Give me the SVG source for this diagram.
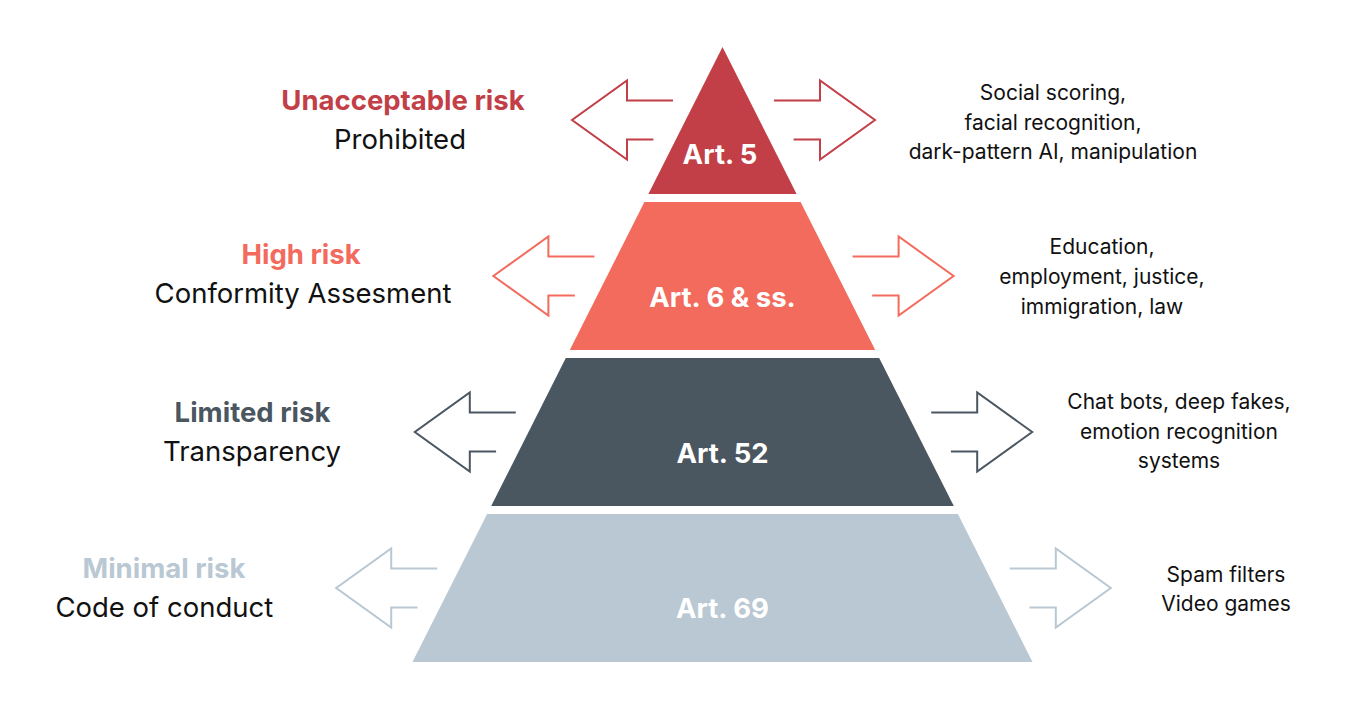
<svg xmlns="http://www.w3.org/2000/svg" width="1366" height="712" viewBox="0 0 1366 712">
<style>
text{font-family:Inter,"Liberation Sans",Arial,sans-serif;}
.art{font-size:27.5px;font-weight:700;fill:#ffffff;text-anchor:middle;}
.head{font-size:27.5px;font-weight:700;text-anchor:middle;}
.sub{font-size:27.5px;font-weight:400;fill:#111111;text-anchor:middle;}
.desc{font-size:21px;font-weight:400;fill:#111111;text-anchor:middle;}
.arr{fill:none;stroke-width:2;stroke-linejoin:miter;}
</style>
<rect width="1366" height="712" fill="#ffffff"/>
<g id="tier-unacceptable">
<polygon points="722.5,47 648.4,194 796.6,194" fill="#c23f47"/>
<text class="art" x="720" y="164">Art. 5</text>
<text class="head" x="403" y="110" fill="#c23f47">Unacceptable risk</text>
<text class="sub" x="400" y="149">Prohibited</text>
<text class="desc" x="1053" y="100">Social scoring,</text>
<text class="desc" x="1053" y="129.5">facial recognition,</text>
<text class="desc" x="1053" y="159">dark-pattern AI, manipulation</text>
</g>
<g id="tier-high">
<polygon points="644.4,202 800.6,202 875.2,350 569.8,350" fill="#f36b5d"/>
<text class="art" x="722.5" y="307">Art. 6 &amp; ss.</text>
<text class="head" x="301" y="264" fill="#f36b5d">High risk</text>
<text class="sub" x="303" y="303">Conformity Assesment</text>
<text class="desc" x="1102" y="254">Education,</text>
<text class="desc" x="1102" y="284">employment, justice,</text>
<text class="desc" x="1102" y="314">immigration, law</text>
</g>
<g id="tier-limited">
<polygon points="565.8,358 879.2,358 953.8,506 491.2,506" fill="#4a5660"/>
<text class="art" x="722.5" y="463">Art. 52</text>
<text class="head" x="252.5" y="421.5" fill="#4a5660">Limited risk</text>
<text class="sub" x="252" y="461">Transparency</text>
<text class="desc" x="1179" y="409">Chat bots, deep fakes,</text>
<text class="desc" x="1179" y="438.5">emotion recognition</text>
<text class="desc" x="1179" y="468">systems</text>
</g>
<g id="tier-minimal">
<polygon points="487.1,514 957.9,514 1032.5,662 412.5,662" fill="#b9c8d3"/>
<text class="art" x="722.5" y="618" fill="#eef2f6">Art. 69</text>
<text class="head" x="164" y="577.5" fill="#b9c8d3">Minimal risk</text>
<text class="sub" x="164.3" y="616.7">Code of conduct</text>
<text class="desc" x="1226" y="581.5">Spam filters</text>
<text class="desc" x="1226" y="610.5">Video games</text>
</g>
<g id="connectors">
<polyline class="arr" stroke="#c23f47" points="673,100.5 627,100.5 627,80.5 572,120 627,159.5 627,139.5 653.4,139.5"/>
<polyline class="arr" stroke="#c23f47" points="774,100.5 820,100.5 820,80.5 875,120 820,159.5 820,139.5 793.6,139.5"/>
<polyline class="arr" stroke="#f36b5d" points="594.4,256.5 548.4,256.5 548.4,236.5 493.4,276 548.4,315.5 548.4,295.5 574.8,295.5"/>
<polyline class="arr" stroke="#f36b5d" points="852.6,256.5 898.6,256.5 898.6,236.5 953.6,276 898.6,315.5 898.6,295.5 872.2,295.5"/>
<polyline class="arr" stroke="#4a5660" points="515.8,412.5 469.8,412.5 469.8,392.5 414.8,432 469.8,471.5 469.8,451.5 496.1,451.5"/>
<polyline class="arr" stroke="#4a5660" points="931.2,412.5 977.2,412.5 977.2,392.5 1032.2,432 977.2,471.5 977.2,451.5 950.9,451.5"/>
<polyline class="arr" stroke="#b9c8d3" points="437.2,568.5 391.2,568.5 391.2,548.5 336.2,588 391.2,627.5 391.2,607.5 417.5,607.5"/>
<polyline class="arr" stroke="#b9c8d3" points="1009.8,568.5 1055.8,568.5 1055.8,548.5 1110.8,588 1055.8,627.5 1055.8,607.5 1029.5,607.5"/>
</g>
</svg>
